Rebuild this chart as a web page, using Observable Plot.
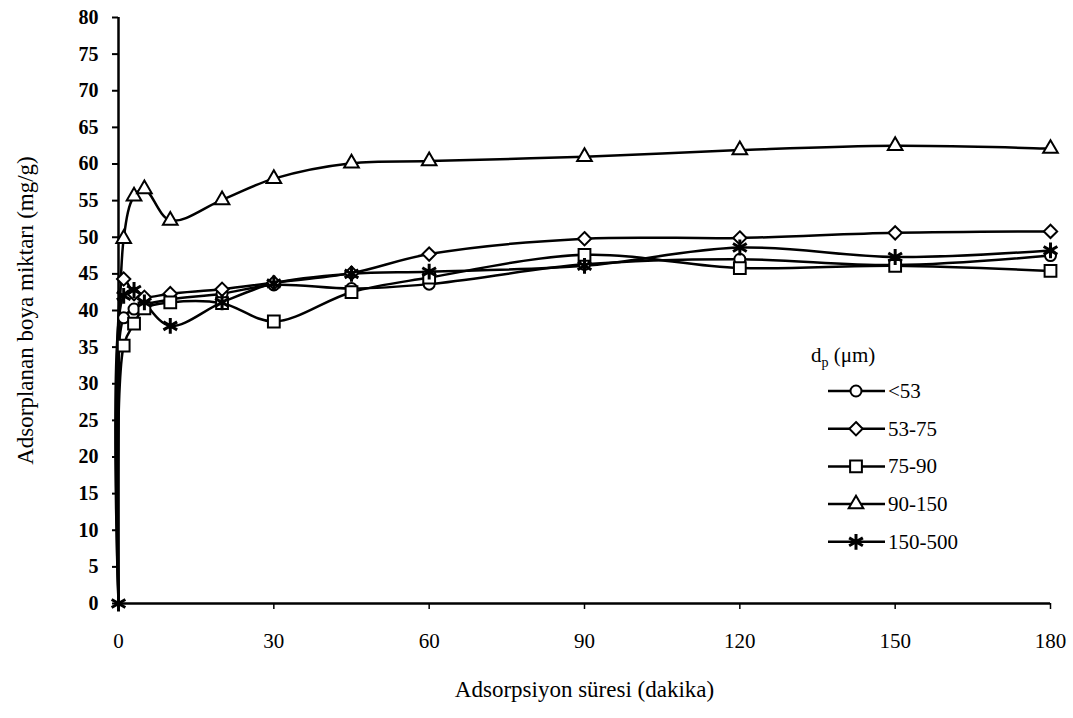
<!DOCTYPE html>
<html><head><meta charset="utf-8">
<script src="https://cdn.jsdelivr.net/npm/d3@7"></script>
<script src="https://cdn.jsdelivr.net/npm/@observablehq/plot@0.6"></script>
<style>
body{margin:0;background:#fff;}
#wrap{position:relative;width:1073px;height:718px;}
#wrap svg, #wrap svg text{font-family:"Liberation Serif","Times New Roman","DejaVu Serif",serif !important;}
g[aria-label="y-axis tick label"] text{font-weight:bold;}
#legend{position:absolute;left:0;top:0;}
</style>
</head><body><div id="wrap"></div>
<script>
// ---- data ----
const times = [0, 1, 3, 5, 10, 20, 30, 45, 60, 90, 120, 150, 180];
const seriesNames = ["<53", "53-75", "75-90", "90-150", "150-500"];
const vLt53    = [0, 39.0, 40.2, 40.8, 41.5, 42.3, 43.5, 43.0, 43.6, 46.3, 47.0, 46.2, 47.5];
const v53_75   = [0, 44.3, 42.3, 41.8, 42.3, 42.9, 43.8, 45.1, 47.7, 49.8, 49.9, 50.6, 50.8];
const v75_90   = [0, 35.2, 38.2, 40.3, 41.1, 41.0, 38.5, 42.5, 44.5, 47.6, 45.8, 46.1, 45.4];
const v90_150  = [0, 49.8, 55.6, 56.6, 52.3, 55.1, 58.0, 60.1, 60.4, 61.0, 61.9, 62.5, 62.1];
const v150_500 = [0, 42.0, 42.8, 41.1, 37.9, 41.1, 43.7, 45.0, 45.3, 46.1, 48.6, 47.3, 48.2];
const seriesValues = [vLt53, v53_75, v75_90, v90_150, v150_500];
const xTicks = [0, 30, 60, 90, 120, 150, 180];
const yTicks = d3.range(0, 81, 5);
const xLabel = "Adsorpsiyon süresi (dakika)";
const yLabel = "Adsorplanan boya miktarı (mg/g)";

// ---- styles ----
const FONT = '"Liberation Serif","Times New Roman","DejaVu Serif",serif';
const symbolFor = {"<53":"circle","53-75":"diamond2","75-90":"square2","90-150":"triangle2","150-500":"asterisk"};
const rFor = {"<53":5.5,"53-75":6,"75-90":7.5,"90-150":7,"150-500":7.5};

const data = [];
seriesNames.forEach((s, i) => times.forEach((t, j) => data.push({s, t, v: seriesValues[i][j]})));

const dotMarks = seriesNames.map(s => Plot.dot(
  data.filter(d => d.s === s && (s === "150-500" || d.t > 0)), {
  x: "t", y: "v", symbol: () => symbolFor[s], r: rFor[s],
  fill: s === "150-500" ? "none" : "white", stroke: "black",
  strokeWidth: s === "150-500" ? 3 : 2
}));

const chart = Plot.plot({
  width: 1073, height: 718,
  marginLeft: 118, marginRight: 23, marginTop: 17, marginBottom: 115,
  style: {fontFamily: FONT, fontSize: "20px", background: "white", color: "black", overflow: "visible"},
  x: {domain: [0, 180]},
  y: {domain: [0, 80]},
  marks: [
    Plot.axisX({ticks: xTicks, tickSize: 6, tickPadding: 24, fontSize: 21, label: xLabel,
      labelAnchor: "center", labelOffset: 93, labelArrow: "none", strokeWidth: 1.5}),
    Plot.axisY({ticks: yTicks, tickSize: 6, tickPadding: 14, fontSize: 20, label: yLabel,
      labelAnchor: "center", labelOffset: 102, labelArrow: "none", strokeWidth: 2}),
    Plot.ruleY([0], {strokeWidth: 2.5}),
    Plot.ruleX([0], {strokeWidth: 2.5}),
    Plot.line(data, {x: "t", y: "v", z: "s", curve: "catmull-rom", stroke: "black", strokeWidth: 2.5}),
    ...dotMarks
  ]
});
document.getElementById("wrap").appendChild(chart);
d3.select(chart).selectAll("text").attr("font-family", FONT).style("font-family", FONT);
d3.select(chart).selectAll('g[aria-label="x-axis label"] text, g[aria-label="y-axis label"] text').style("font-size", "23px");

// ---- legend (inside plot area) ----
const lg = d3.select("#wrap").append("svg").attr("id", "legend").attr("width", 1073).attr("height", 718)
  .style("font-family", FONT);
const title = lg.append("text").attr("x", 811).attr("y", 362).attr("font-size", 21).attr("font-family", FONT);
title.append("tspan").text("d");
title.append("tspan").attr("font-size", 14).attr("dy", 5).text("p");
title.append("tspan").attr("dy", -5).text(" (\u03bcm)");
const d3sym = {"circle": d3.symbolCircle, "diamond2": d3.symbolDiamond2, "square2": d3.symbolSquare2,
  "triangle2": d3.symbolTriangle2, "asterisk": d3.symbolAsterisk};
seriesNames.forEach((s, i) => {
  const y = 391 + i * 37.7;
  lg.append("line").attr("x1", 828).attr("x2", 885).attr("y1", y).attr("y2", y).attr("stroke", "black").attr("stroke-width", 2.5);
  const r = rFor[s];
  lg.append("path").attr("transform", `translate(856,${y})`)
    .attr("d", d3.symbol(d3sym[symbolFor[s]], Math.PI * r * r)())
    .attr("fill", s === "150-500" ? "none" : "white").attr("stroke", "black")
    .attr("stroke-width", s === "150-500" ? 3 : 2);
  lg.append("text").attr("x", 888).attr("y", y + 7).attr("font-size", 21).attr("font-family", FONT).text(s);
});
</script>
</body></html>
